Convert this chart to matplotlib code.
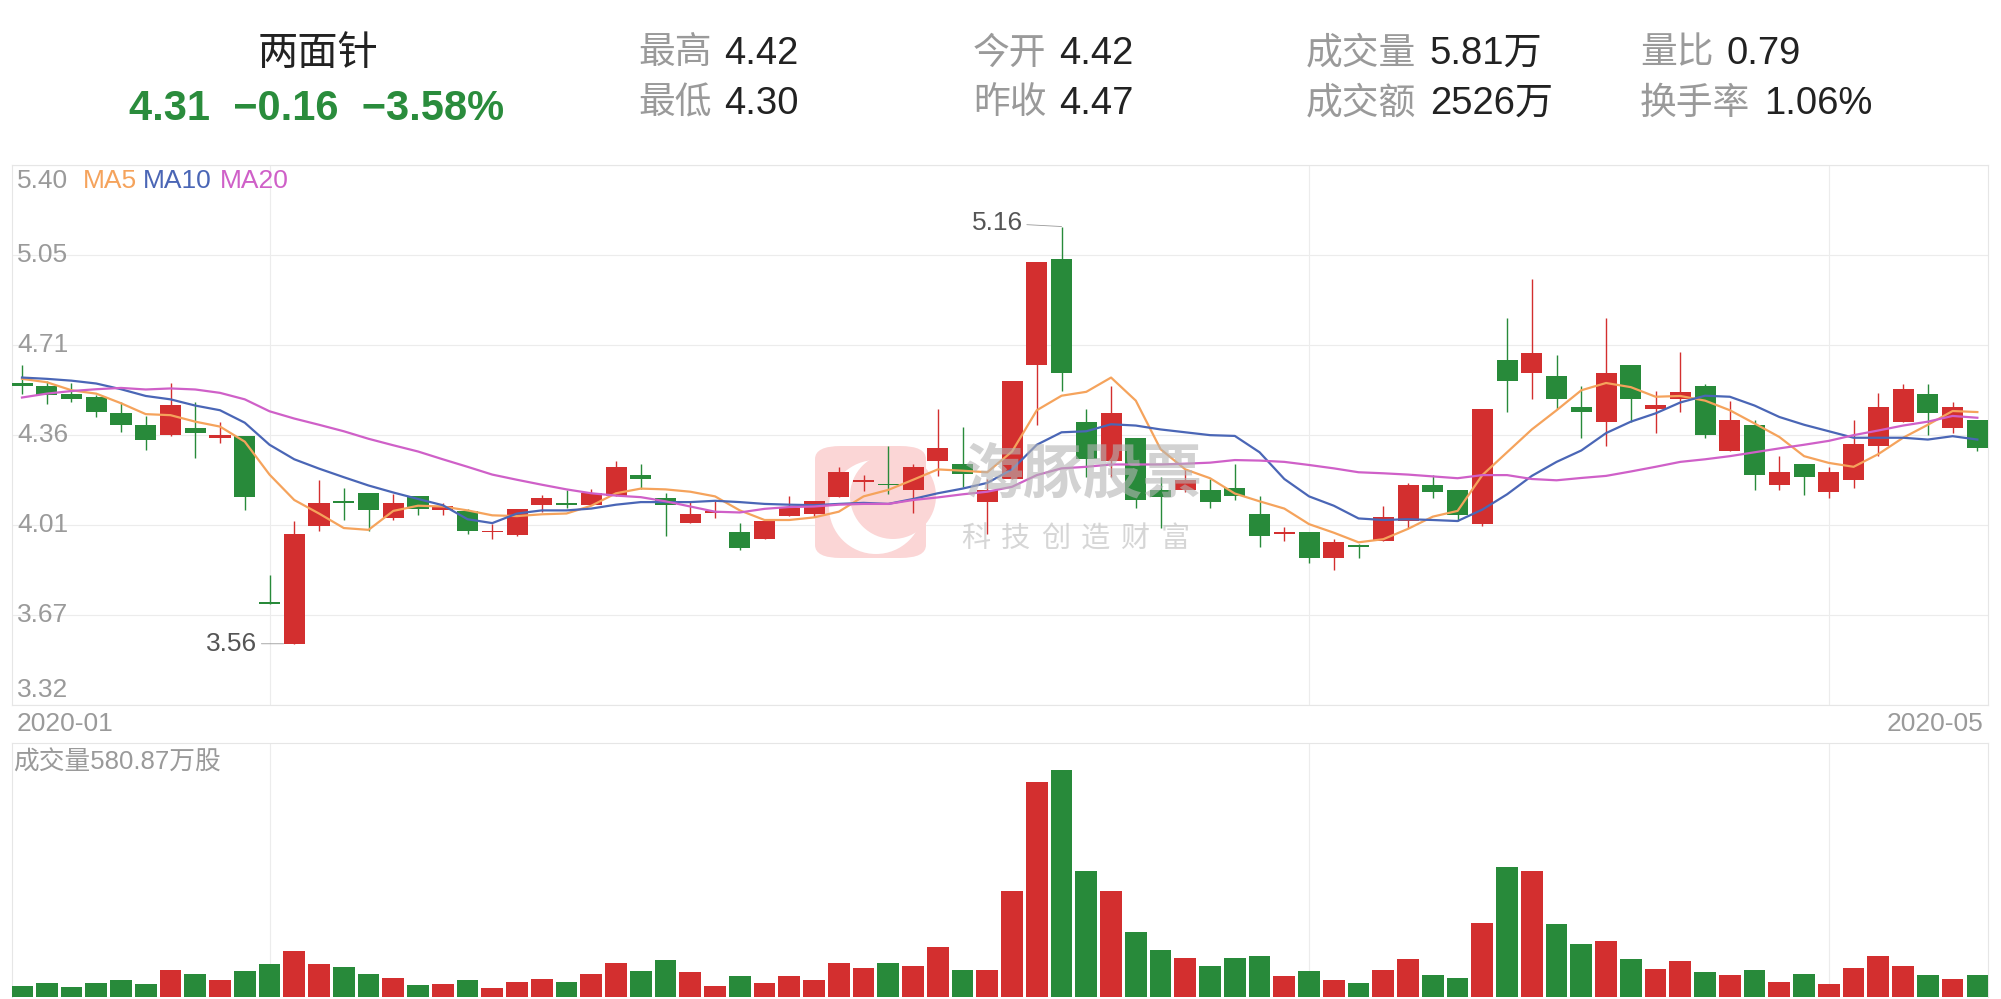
import numpy as np
import matplotlib
matplotlib.use('Agg')
from matplotlib import pyplot as plt
from matplotlib.patches import FancyBboxPatch, Ellipse

plt.rcParams['font.family'] = ['Liberation Sans', 'Noto Sans CJK SC', 'DejaVu Sans']

# ---- data (2020-01 .. 2020-05, daily) ----
opens = [4.56, 4.549, 4.518, 4.508, 4.447, 4.399, 4.360, 4.387, 4.350, 4.357,
         3.710, 3.556, 4.008, 4.108, 4.138, 4.039, 4.127, 4.070, 4.068, 3.985,
         3.977, 4.090, 4.098, 4.090, 4.127, 4.206, 4.117, 4.021, 4.060, 3.987,
         3.958, 4.048, 4.058, 4.120, 4.180, 4.168, 4.149, 4.260, 4.247, 4.101,
         4.191, 4.630, 5.037, 4.409, 4.260, 4.350, 4.147, 4.149, 4.147, 4.157,
         4.057, 3.980, 3.987, 3.888, 3.930, 3.952, 4.029, 4.167, 4.147, 4.018,
         4.648, 4.599, 4.589, 4.467, 4.409, 4.629, 4.459, 4.499, 4.549, 4.297,
         4.400, 4.169, 4.248, 4.139, 4.188, 4.319, 4.409, 4.518, 4.388, 4.42]
highs = [4.63, 4.567, 4.562, 4.515, 4.486, 4.434, 4.562, 4.486, 4.409, 4.357,
         3.822, 4.029, 4.188, 4.158, 4.138, 4.132, 4.127, 4.099, 4.077, 4.018,
         4.077, 4.129, 4.149, 4.151, 4.259, 4.247, 4.138, 4.105, 4.105, 4.021,
         4.036, 4.127, 4.108, 4.238, 4.208, 4.319, 4.250, 4.459, 4.390, 4.191,
         4.568, 5.028, 5.164, 4.459, 4.549, 4.350, 4.198, 4.228, 4.191, 4.247,
         4.127, 4.006, 3.987, 3.958, 3.940, 4.087, 4.176, 4.208, 4.147, 4.459,
         4.810, 4.961, 4.669, 4.549, 4.810, 4.629, 4.530, 4.680, 4.559, 4.492,
         4.419, 4.279, 4.248, 4.238, 4.419, 4.521, 4.559, 4.559, 4.489, 4.42]
lows = [4.52, 4.481, 4.489, 4.431, 4.371, 4.301, 4.358, 4.272, 4.331, 4.073,
        3.709, 3.556, 3.990, 4.032, 3.990, 4.032, 4.051, 4.051, 3.980, 3.959,
        3.970, 4.064, 4.080, 4.090, 4.127, 4.154, 3.970, 4.021, 4.040, 3.918,
        3.958, 4.048, 4.046, 4.120, 4.144, 4.132, 4.061, 4.203, 4.161, 3.980,
        4.191, 4.400, 4.530, 4.198, 4.198, 4.080, 4.002, 4.139, 4.080, 4.110,
        3.930, 3.952, 3.869, 3.840, 3.888, 3.952, 4.002, 4.117, 4.029, 4.011,
        4.449, 4.500, 4.459, 4.350, 4.319, 4.412, 4.368, 4.449, 4.350, 4.297,
        4.149, 4.149, 4.129, 4.117, 4.158, 4.279, 4.409, 4.360, 4.368, 4.30]
closes = [4.55, 4.515, 4.499, 4.449, 4.400, 4.340, 4.478, 4.369, 4.360, 4.120,
          3.709, 3.978, 4.098, 4.099, 4.071, 4.098, 4.077, 4.088, 3.989, 3.990,
          4.077, 4.118, 4.089, 4.136, 4.238, 4.191, 4.090, 4.055, 4.062, 3.925,
          4.029, 4.079, 4.108, 4.217, 4.185, 4.166, 4.238, 4.309, 4.210, 4.147,
          4.568, 5.028, 4.599, 4.269, 4.447, 4.110, 4.120, 4.188, 4.102, 4.127,
          3.970, 3.985, 3.888, 3.947, 3.928, 4.046, 4.169, 4.139, 4.051, 4.459,
          4.570, 4.677, 4.500, 4.449, 4.599, 4.499, 4.478, 4.528, 4.360, 4.418,
          4.208, 4.219, 4.198, 4.219, 4.326, 4.468, 4.537, 4.447, 4.468, 4.31]
ma5 = [4.577, 4.564, 4.533, 4.520, 4.483, 4.441, 4.437, 4.412, 4.393, 4.335,
       4.208, 4.110, 4.058, 4.002, 3.995, 4.068, 4.088, 4.085, 4.070, 4.051,
       4.048, 4.055, 4.058, 4.088, 4.136, 4.154, 4.151, 4.142, 4.124, 4.070,
       4.033, 4.033, 4.043, 4.065, 4.124, 4.149, 4.188, 4.228, 4.223, 4.217,
       4.297, 4.456, 4.512, 4.527, 4.582, 4.493, 4.306, 4.228, 4.194, 4.135,
       4.105, 4.077, 4.017, 3.984, 3.947, 3.959, 3.999, 4.046, 4.068, 4.206,
       4.294, 4.382, 4.456, 4.533, 4.561, 4.545, 4.508, 4.511, 4.493, 4.456,
       4.405, 4.353, 4.279, 4.253, 4.238, 4.287, 4.350, 4.400, 4.453, 4.449]
ma10 = [4.582, 4.577, 4.570, 4.559, 4.537, 4.511, 4.498, 4.474, 4.456, 4.408,
        4.323, 4.267, 4.231, 4.198, 4.166, 4.139, 4.114, 4.090, 4.036, 4.021,
        4.058, 4.070, 4.070, 4.077, 4.092, 4.102, 4.102, 4.102, 4.107, 4.102,
        4.095, 4.092, 4.090, 4.095, 4.099, 4.095, 4.114, 4.136, 4.154, 4.176,
        4.228, 4.323, 4.371, 4.375, 4.402, 4.397, 4.382, 4.371, 4.360, 4.357,
        4.294, 4.191, 4.124, 4.088, 4.039, 4.033, 4.036, 4.033, 4.029, 4.073,
        4.132, 4.203, 4.257, 4.301, 4.368, 4.412, 4.444, 4.486, 4.512, 4.508,
        4.474, 4.430, 4.400, 4.375, 4.350, 4.350, 4.350, 4.343, 4.356, 4.343]
ma20 = [4.505, 4.520, 4.530, 4.537, 4.542, 4.536, 4.540, 4.536, 4.523, 4.498,
        4.452, 4.424, 4.400, 4.375, 4.346, 4.321, 4.297, 4.267, 4.238, 4.208,
        4.188, 4.169, 4.151, 4.136, 4.127, 4.121, 4.105, 4.085, 4.065, 4.062,
        4.076, 4.083, 4.085, 4.092, 4.095, 4.095, 4.110, 4.120, 4.132, 4.142,
        4.161, 4.206, 4.232, 4.238, 4.247, 4.247, 4.247, 4.250, 4.254, 4.264,
        4.262, 4.257, 4.245, 4.232, 4.217, 4.213, 4.208, 4.201, 4.194, 4.206,
        4.206, 4.191, 4.186, 4.195, 4.203, 4.220, 4.238, 4.257, 4.267, 4.279,
        4.294, 4.309, 4.323, 4.338, 4.360, 4.378, 4.397, 4.412, 4.434, 4.427]
# volume in 万股
volumes = [290, 370, 264, 378, 449, 352, 722, 616, 458, 686,
           880, 1197, 880, 792, 607, 502, 317, 343, 449, 246,
           405, 475, 405, 607, 906, 686, 977, 669, 290, 554,
           370, 563, 458, 906, 774, 898, 818, 1320, 713, 713,
           2798, 5650, 5966, 3326, 2798, 1716, 1241, 1030, 818, 1030,
           1082, 554, 686, 449, 370, 713, 1003, 581, 502, 1954,
           3432, 3326, 1927, 1399, 1478, 1003, 739, 950, 660, 581,
           713, 396, 607, 343, 766, 1082, 818, 581, 475, 580.87]
month_lines = [10, 52, 73]
price_ticks = np.linspace(3.32, 5.40, 7)

header_name = '两面针'
header_quote = '4.31  \u22120.16  \u22123.58%'
header_items = [('最高', '4.42', 638, 54), ('最低', '4.30', 638, 104),
                ('今开', '4.42', 973, 54), ('昨收', '4.47', 973, 104),
                ('成交量', '5.81万', 1306, 54), ('成交额', '2526万', 1306, 104),
                ('量比', '0.79', 1640, 54), ('换手率', '1.06%', 1640, 104)]

RED = '#d32f2f'
GREEN = '#288a3a'
GRID = '#ececec'
PINK = '#fbd6d6'
W, H = 2001, 999


def px(x, y):
    return x / W, 1 - y / H


fig = plt.figure(figsize=(W / 100, H / 100), dpi=100)
fig.patch.set_facecolor('white')

xmin, xmax = -0.416, 79.43
left, width = 11.7 / W, (1988 - 11.7) / W
ax = fig.add_axes([left, 1 - 705 / H, width, (705 - 165.3) / H])
axv = fig.add_axes([left, 1 - 997 / H, width, (997 - 743) / H])

x = np.arange(len(closes))
o = np.array(opens)
c = np.array(closes)
up = c >= o
cols = [RED if u else GREEN for u in up]

# watermark logo, behind the candles
tf = fig.transFigure
ax.add_patch(FancyBboxPatch(px(815, 558), 111 / W, 112 / H,
                            boxstyle='round,pad=0,rounding_size=0.013', transform=tf,
                            facecolor=PINK, edgecolor='none', zorder=1, clip_on=False))
ax.add_patch(Ellipse(px(876, 507), 94 / W, 94 / H, transform=tf, facecolor='white',
                     edgecolor='none', zorder=1.1, clip_on=False))
ax.add_patch(Ellipse(px(893, 496), 86 / W, 86 / H, transform=tf, facecolor=PINK,
                     edgecolor='none', zorder=1.2, clip_on=False))

# candles
ax.vlines(x, lows, highs, colors=cols, linewidth=1.0, zorder=3)
body_lo = np.minimum(o, c)
body_h = np.maximum(np.abs(c - o), 0.007)
ax.bar(x, body_h, bottom=body_lo, width=0.85, color=cols, linewidth=0, zorder=4)

ax.plot(x, ma5, color='#f5a35c', lw=1.6, zorder=5)
ax.plot(x, ma10, color='#4a66b6', lw=1.6, zorder=5)
ax.plot(x, ma20, color='#cf60c8', lw=1.6, zorder=5)

ax.set_xlim(xmin, xmax)
ax.set_ylim(3.32, 5.40)
for t in price_ticks:
    ax.axhline(t, color=GRID, lw=0.8, zorder=0)
for m in month_lines:
    ax.axvline(m, color=GRID, lw=0.8, zorder=0)
ax.set_xticks([])
ax.set_yticks([])
for s in ax.spines.values():
    s.set_color('#e6e6e6')
    s.set_linewidth(0.8)

# price labels inside the plot
for k, t in enumerate(price_ticks):
    dy = 0
    if k == len(price_ticks) - 1:
        dy = -11.5
    elif k == 0:
        dy = 11
    ax.annotate(f'{t:.2f}', xy=(0.0028, t), xycoords=('axes fraction', 'data'),
                xytext=(0, dy), textcoords='offset points', ha='left', va='center',
                fontsize=19, color='#9a9a9a', zorder=6)

# MA legend
for lbl, col, lx in [('MA5', '#f5a35c', 83), ('MA10', '#4a66b6', 143), ('MA20', '#cf60c8', 220)]:
    fig.text(*px(lx, 181), lbl, fontsize=19, color=col, ha='left', va='center')

# high / low annotations
ax.annotate('5.16', xy=(42, 5.164), xytext=(-28, 2.5), textcoords='offset points',
            ha='right', va='center', fontsize=19, color='#555555',
            arrowprops=dict(arrowstyle='-', color='#999999', lw=0.6, shrinkA=1, shrinkB=0),
            zorder=7)
ax.annotate('3.56', xy=(10.57, 3.556), xytext=(-19, 0), textcoords='offset points',
            ha='right', va='center', fontsize=19, color='#555555',
            arrowprops=dict(arrowstyle='-', color='#999999', lw=0.6, shrinkA=1, shrinkB=0),
            zorder=7)

fig.text(*px(17, 724), '2020-01', fontsize=19, color='#9a9a9a', ha='left', va='center')
fig.text(*px(1983, 724), '2020-05', fontsize=19, color='#9a9a9a', ha='right', va='center')

# volume panel
axv.bar(x, volumes, width=0.877, color=cols, linewidth=0, zorder=3)
axv.set_xlim(xmin, xmax)
axv.set_ylim(0, 6680)
for m in month_lines:
    axv.axvline(m, color=GRID, lw=0.8, zorder=0)
axv.set_xticks([])
axv.set_yticks([])
for s in axv.spines.values():
    s.set_color('#e6e6e6')
    s.set_linewidth(0.8)
axv.spines['bottom'].set_visible(False)
fig.text(*px(13, 763), f'成交量{volumes[-1]:.2f}万股', fontsize=18.5, color='#9a9a9a',
         ha='left', va='center')

# header
fig.text(*px(318, 54), header_name, fontsize=29, color='#222222', ha='center', va='center')
fig.text(*px(317, 109), header_quote, fontsize=30, color='#2a8c3c', ha='center', va='center',
         fontweight='bold')
for lbl, val, hx, hy in header_items:
    fig.text(*px(hx, hy), lbl, fontsize=26.5, color='#9a9a9a', ha='left', va='center')
    fig.text(*px(hx + 37.3 * len(lbl) + 12, hy), val, fontsize=27.5, color='#222222',
             ha='left', va='center')

# watermark text, on top
fig.text(*px(1083, 476), '海豚股票', fontsize=43, color='#b4b4b4', alpha=0.6,
         ha='center', va='center', fontweight='bold', zorder=10)
for k, ch in enumerate('科技创造财富'):
    fig.text(*px(976 + 39.8 * k, 539), ch, fontsize=21, color='#bcbcbc', alpha=0.6,
             ha='center', va='center', zorder=10)

fig.savefig('out.png', dpi=100, facecolor='white')
